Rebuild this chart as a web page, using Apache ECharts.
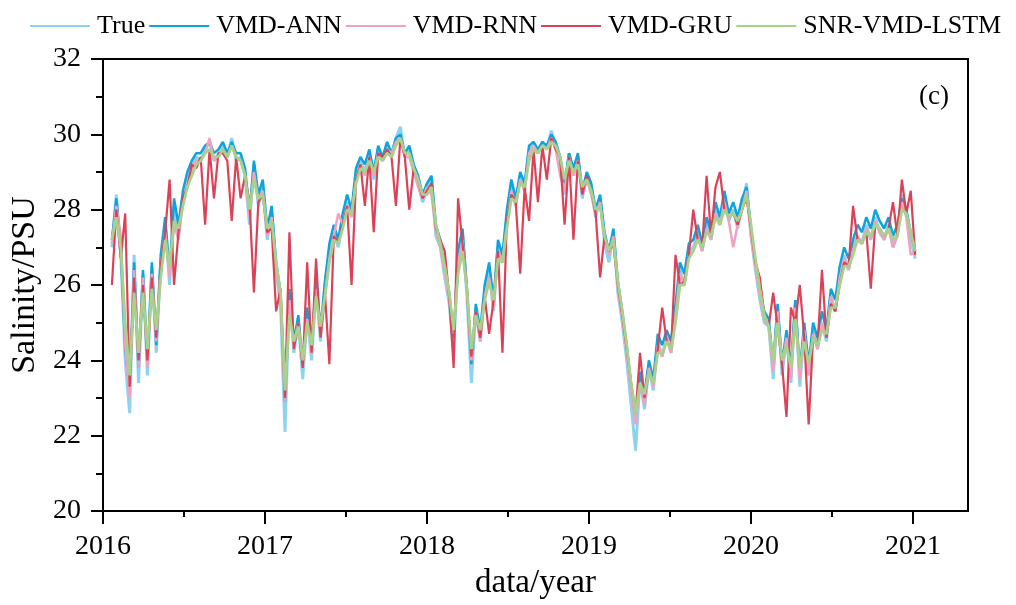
<!DOCTYPE html>
<html><head><meta charset="utf-8">
<script src="https://cdn.jsdelivr.net/npm/echarts@6/dist/echarts.min.js"></script>
<style>html,body{margin:0;padding:0;background:#fff}#c{width:1016px;height:605px}</style>
</head><body><div id="c"></div>
<script>
// time sampling: first sample as decimal year, then one sample every STEP_DAYS days
const START_YEAR = 2016.055;
const STEP_DAYS = 10;

const xTickLabels = [2016, 2017, 2018, 2019, 2020, 2021];
const xMinorTicks = [2016.5, 2017.5, 2018.5, 2019.5, 2020.5];
const seriesNames = ['True', 'VMD-ANN', 'VMD-RNN', 'VMD-GRU', 'SNR-VMD-LSTM'];

const trueVals = [
27.0,28.4,26.8,24.0,22.6,26.8,23.4,26.3,23.6,26.5,
24.2,26.6,27.6,26.0,28.1,27.3,28.3,28.8,29.1,29.4,
29.3,29.6,29.8,29.3,29.5,29.7,29.4,29.9,29.3,29.4,
28.9,27.6,29.2,28.1,28.6,27.2,27.9,26.3,25.5,22.1,
25.8,24.2,25.0,23.5,25.2,24.0,26.0,24.5,25.9,26.9,
27.4,27.0,27.7,28.2,27.8,28.9,29.3,29.0,29.5,28.8,
29.6,29.3,29.7,29.4,29.9,30.2,29.4,29.6,29.0,28.7,
28.2,28.5,28.9,27.3,27.0,26.2,25.5,24.2,26.8,27.4,
25.7,23.4,25.4,24.5,25.8,26.4,25.3,27.0,26.6,27.8,
28.6,28.1,28.9,28.5,29.6,29.8,29.5,29.8,29.6,30.1,
29.7,29.3,28.4,29.5,28.9,29.4,28.3,28.9,28.5,27.8,
28.3,27.1,26.6,27.4,25.8,25.0,24.0,22.8,21.6,23.5,
22.7,23.8,23.2,24.5,24.1,24.6,24.2,25.3,26.4,26.0,
26.9,27.0,27.4,26.9,27.6,27.2,28.0,27.6,28.3,27.7,
28.0,27.5,28.1,28.7,27.3,26.4,25.6,25.0,24.9,23.5,
25.4,23.6,24.6,23.4,25.6,23.3,24.8,23.6,24.8,24.3,
25.0,24.5,25.7,25.3,26.2,26.8,26.4,27.0,27.3,27.1,
27.6,27.2,27.8,27.4,27.2,27.6,27.0,27.4,28.4,27.9,
27.2,26.7];

const annVals = [
27.2,28.3,27.0,24.3,23.2,26.6,23.8,26.4,23.9,26.6,
24.4,26.8,27.8,26.3,28.3,27.6,28.5,29.0,29.3,29.5,
29.5,29.7,29.8,29.5,29.6,29.8,29.5,29.8,29.5,29.5,
29.1,27.9,29.3,28.4,28.8,27.5,28.1,26.6,25.8,22.9,
25.9,24.5,25.2,23.9,25.4,24.3,26.2,24.8,26.1,27.1,
27.6,27.2,27.9,28.4,28.0,29.1,29.4,29.2,29.6,29.0,
29.7,29.4,29.8,29.5,29.9,30.0,29.5,29.7,29.2,28.9,
28.4,28.7,28.9,27.6,27.2,26.4,25.8,24.6,26.9,27.5,
25.9,23.9,25.5,24.8,26.0,26.6,25.6,27.2,26.8,28.0,
28.8,28.3,29.0,28.7,29.7,29.8,29.6,29.8,29.7,30.0,
29.8,29.4,28.7,29.5,29.1,29.5,28.5,29.0,28.7,28.0,
28.4,27.4,26.9,27.5,26.1,25.3,24.4,23.3,22.4,23.7,
23.1,24.0,23.5,24.7,24.4,24.8,24.5,25.5,26.6,26.3,
27.1,27.2,27.6,27.1,27.8,27.4,28.2,27.8,28.5,27.9,
28.2,27.8,28.3,28.6,27.5,26.6,25.9,25.3,25.1,23.9,
25.5,23.9,24.8,23.8,25.6,23.7,25.0,23.9,25.0,24.6,
25.3,24.8,25.9,25.6,26.5,27.0,26.7,27.2,27.6,27.4,
27.8,27.5,28.0,27.7,27.5,27.8,27.3,27.6,28.3,28.0,
27.4,26.9];

const rnnVals = [
27.1,28.1,27.3,24.4,23.0,26.4,23.8,26.2,23.8,26.3,
24.5,26.5,27.4,26.2,27.6,27.2,28.2,28.7,29.0,29.3,
29.3,29.5,29.9,29.3,29.4,29.6,29.4,29.7,29.4,29.3,
28.9,27.8,29.0,28.2,28.5,27.3,27.8,26.4,25.6,22.9,
25.6,24.4,25.0,23.8,25.1,24.2,25.9,24.6,25.7,26.7,
27.3,27.9,27.6,28.1,27.8,28.8,29.2,28.9,29.4,28.9,
29.5,29.3,29.6,29.5,29.8,29.9,29.4,29.4,29.0,28.6,
28.3,28.6,28.4,27.4,27.0,26.3,25.6,24.7,26.6,27.2,
25.8,24.0,25.3,24.5,25.7,26.2,25.4,26.9,26.6,27.6,
28.5,28.1,28.8,28.5,29.5,29.7,29.5,29.7,29.6,29.9,
29.6,28.9,28.5,29.4,28.9,29.3,28.4,28.8,28.4,27.9,
28.2,27.2,26.8,27.3,25.9,25.1,24.2,23.2,22.3,23.4,
22.8,23.8,23.3,24.4,24.1,24.6,24.2,25.2,26.3,26.0,
26.8,26.9,27.3,26.9,27.5,27.2,27.9,27.6,28.2,27.7,
27.0,27.6,28.0,28.5,27.3,26.5,25.7,25.1,24.9,23.7,
25.3,23.8,24.6,23.5,25.4,23.5,24.8,23.6,24.7,24.3,
25.0,24.6,25.7,25.3,26.2,26.7,26.4,26.9,27.3,27.1,
27.5,27.2,27.7,27.4,27.2,27.5,27.0,27.3,28.2,27.8,
26.8,26.9];

const gruVals = [
26.0,28.0,26.7,27.9,23.3,26.2,24.0,26.0,24.0,26.2,
24.6,26.5,27.4,28.8,26.0,27.4,28.3,28.6,29.2,29.1,
29.4,27.6,29.6,28.3,29.5,29.5,29.3,27.7,29.4,28.3,
28.9,28.2,25.8,28.2,28.4,27.4,27.5,25.3,25.9,23.0,
27.4,24.3,25.0,23.8,26.6,24.2,26.7,24.6,25.8,23.9,
27.3,27.1,27.6,28.1,26.0,28.8,29.2,28.1,29.4,27.4,
29.5,29.4,29.6,29.4,28.1,29.9,29.4,28.0,29.1,28.8,
28.3,28.5,28.7,27.5,27.2,26.9,25.7,23.8,28.3,27.1,
25.9,24.1,25.3,24.6,25.7,24.7,25.6,26.9,24.2,27.7,
28.4,28.2,26.3,28.6,27.7,29.6,28.2,29.7,28.8,29.9,
29.6,29.4,27.6,29.4,27.2,29.3,28.4,28.9,28.5,27.9,
26.2,27.3,26.9,27.1,26.0,25.2,24.3,23.4,22.6,24.2,
23.0,23.7,23.4,24.3,25.4,24.5,24.3,26.8,26.0,26.1,
26.8,28.0,27.2,27.0,28.9,27.3,28.6,29.0,28.0,27.8,
27.9,27.6,28.0,28.3,27.5,26.6,26.2,25.2,24.9,25.8,
24.9,23.9,22.5,25.4,25.0,26.0,24.6,22.3,24.6,24.4,
26.4,24.6,25.5,25.3,26.0,26.6,26.5,28.1,27.2,27.1,
27.4,25.9,27.6,27.5,27.3,27.5,28.2,27.3,28.8,27.9,
28.5,26.8];

const lstmVals = [
27.2,27.8,27.0,25.0,23.6,25.8,24.2,25.8,24.3,25.9,
24.8,26.2,27.2,26.5,27.7,27.5,28.1,28.6,28.9,29.2,
29.3,29.5,29.6,29.4,29.4,29.6,29.4,29.7,29.4,29.3,
28.9,28.0,28.8,28.3,28.4,27.5,27.7,26.6,25.8,23.2,
25.2,24.5,24.9,24.0,25.0,24.4,25.7,24.9,25.7,26.6,
27.2,27.1,27.5,28.0,27.9,28.7,29.1,29.0,29.3,29.0,
29.4,29.3,29.5,29.4,29.7,29.9,29.5,29.5,29.1,28.8,
28.4,28.4,28.6,27.6,27.1,26.5,25.8,24.8,26.3,26.9,
25.9,24.3,25.2,24.8,25.6,26.1,25.6,26.7,26.6,27.5,
28.3,28.2,28.7,28.6,29.3,29.6,29.5,29.7,29.6,29.8,
29.7,29.4,28.8,29.3,29.0,29.2,28.6,28.8,28.5,28.0,
28.1,27.3,26.9,27.2,26.1,25.3,24.4,23.4,22.6,23.4,
23.1,23.7,23.4,24.2,24.2,24.5,24.3,25.0,26.0,26.0,
26.7,26.9,27.2,27.0,27.4,27.3,27.8,27.6,28.0,27.8,
27.9,27.7,28.0,28.4,27.6,26.7,25.9,25.2,24.9,24.0,
25.0,24.0,24.4,23.8,25.1,23.8,24.5,23.9,24.6,24.4,
24.8,24.7,25.4,25.4,26.0,26.5,26.5,26.8,27.2,27.1,
27.4,27.3,27.6,27.5,27.3,27.5,27.2,27.3,28.0,27.9,
27.4,26.9];

const valueArrays = [trueVals, annVals, rnnVals, gruVals, lstmVals];
const colors = ['#8dd3f0', '#0fa3dc', '#eca4c0', '#dc4257', '#a8d18c'];
const widths = [3, 2.5, 2.5, 2.2, 2.8];

function toPairs(vals) {
  return vals.map((v, i) => [START_YEAR + i * STEP_DAYS / 365, v]);
}

const FONT = "'Liberation Serif', 'Times New Roman', serif";
const chart = echarts.init(document.getElementById('c'), null, {renderer: 'canvas'});
chart.setOption({
  animation: false,
  backgroundColor: '#fff',
  textStyle: {fontFamily: FONT, color: '#000'},
  legend: {
    top: 8, left: 25, itemWidth: 60, itemHeight: 14, itemGap: 4,
    textStyle: {fontFamily: FONT, fontSize: 26, color: '#000', padding: [0, 0, 0, 2]},
    data: seriesNames.map(n => ({name: n, icon: 'path://M0,6 L60,6 L60,8 L0,8 Z'}))
  },
  grid: {left: 103, right: 48, top: 59, bottom: 92, show: true, borderColor: '#000', borderWidth: 2, backgroundColor: 'transparent'},
  xAxis: [{
    type: 'value', min: 2016, max: 2021.34,
    name: 'data/year', nameLocation: 'middle', nameGap: 56,
    nameTextStyle: {fontFamily: FONT, fontSize: 33, color: '#000'},
    axisLine: {show: true, lineStyle: {color: '#000', width: 2}},
    axisTick: {show: true, customValues: xTickLabels, length: 13, lineStyle: {color: '#000', width: 2}},
    axisLabel: {customValues: xTickLabels, fontFamily: FONT, fontSize: 28, color: '#000', margin: 22,
      formatter: v => String(Math.round(v))},
    splitLine: {show: false}
  }, {
    type: 'value', min: 2016, max: 2021.34, position: 'bottom',
    axisLine: {show: false},
    axisTick: {show: true, customValues: xMinorTicks, length: 6, lineStyle: {color: '#000', width: 2}},
    axisLabel: {show: false},
    splitLine: {show: false}
  }],
  yAxis: {
    type: 'value', min: 20, max: 32, interval: 2,
    name: 'Salinity/PSU', nameLocation: 'middle', nameGap: 56,
    nameTextStyle: {fontFamily: FONT, fontSize: 34, color: '#000'},
    axisLine: {show: true, lineStyle: {color: '#000', width: 2}},
    axisTick: {show: true, length: 12, lineStyle: {color: '#000', width: 2}},
    minorTick: {show: true, splitNumber: 2, length: 7, lineStyle: {color: '#000', width: 2}},
    axisLabel: {fontFamily: FONT, fontSize: 28, color: '#000', margin: 22},
    splitLine: {show: false}, minorSplitLine: {show: false}
  },
  graphic: [{
    type: 'text', left: 919, top: 83,
    style: {text: '(c)', font: "27px 'Liberation Serif', serif", fill: '#000'}
  }],
  series: seriesNames.map((n, k) => ({
    name: n, type: 'line', xAxisIndex: 0, data: toPairs(valueArrays[k]),
    symbol: 'none', showSymbol: false, smooth: false,
    lineStyle: {color: colors[k], width: widths[k]},
    itemStyle: {color: colors[k]},
    z: 2 + k
  }))
});
</script></body></html>
